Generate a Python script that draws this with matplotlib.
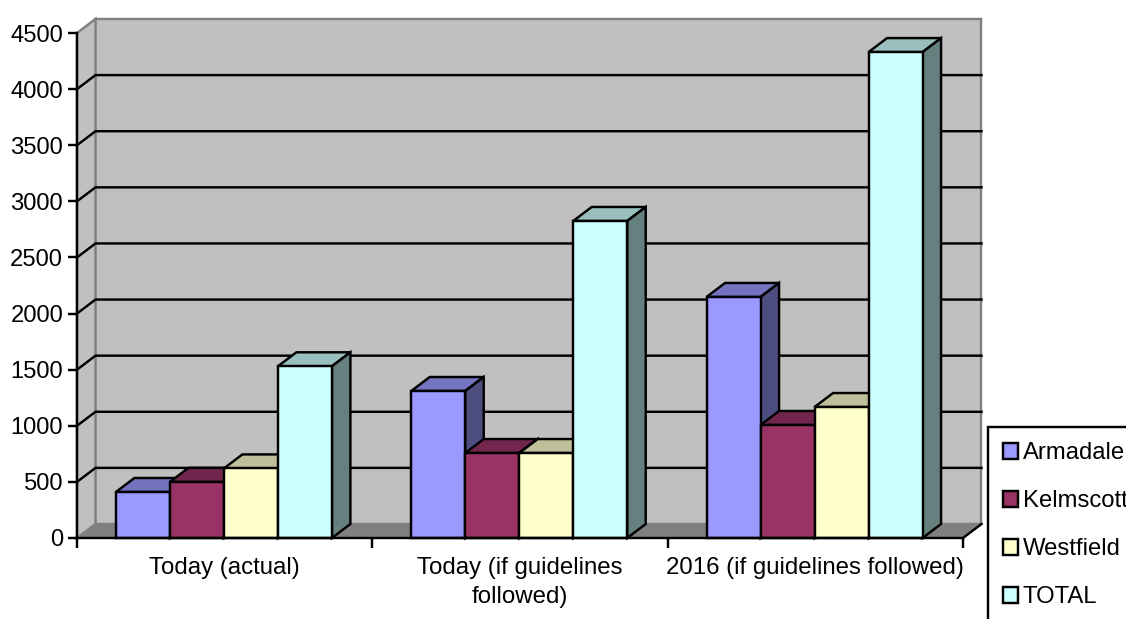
import matplotlib
matplotlib.use("Agg")
import matplotlib.pyplot as plt
from matplotlib.patches import Polygon, Patch

plt.rcParams["font.family"] = ["Liberation Sans", "DejaVu Sans"]

# Data
categories = ["Today (actual)", "Today (if guidelines\nfollowed)", "2016 (if guidelines followed)"]
armadale = [410, 1310, 2148]
kelmscott = [500, 757, 1007]
westfield = [620, 757, 1167]
total = [1530, 2825, 4330]
series_names = ["Armadale", "Kelmscott", "Westfield", "TOTAL"]
series_values = [armadale, kelmscott, westfield, total]
front_colors = ["#9999FF", "#993366", "#FFFFCC", "#CCFFFF"]
top_colors = ["#7373BF", "#73264D", "#BFBF99", "#99BFBF"]
side_colors = ["#4D4D80", "#4D1A33", "#808066", "#668080"]
y_ticks = list(range(0, 4501, 500))

W, H = 1126, 619
X0, X1, Y0, Y1 = 77, 963, 538, 33   # plot front plane, in pixels
LW = 1.75

fig = plt.figure(figsize=(W / 100, H / 100), dpi=100, facecolor="white")
ax = fig.add_axes([X0 / W, 1 - Y0 / H, (X1 - X0) / W, (Y0 - Y1) / H])
ax.set_xlim(0, 3)
ax.set_ylim(0, 4500)
ax.patch.set_visible(False)

# Oblique depth of the pseudo-3D box, in data units
dx = 18.5 / ((X1 - X0) / 3)
dy = 14 / ((Y0 - Y1) / 4500)


def poly(pts, fc, ec="black", lw=LW, z=2, join="miter"):
    ax.add_patch(Polygon(pts, closed=True, facecolor=fc, edgecolor=ec, linewidth=lw,
                         clip_on=False, zorder=z, joinstyle=join))


# Walls and floor
poly([(dx, dy), (3 + dx, dy), (3 + dx, 4500 + dy), (dx, 4500 + dy)], "#C0C0C0", "#808080", z=1)
poly([(0, 0), (dx, dy), (dx, 4500 + dy), (0, 4500)], "#C0C0C0", "#808080", z=1)
poly([(0, 0), (3, 0), (3 + dx, dy), (dx, dy)], "#808080", "#808080", lw=0.7, z=1)
ax.plot([3, 3 + dx], [0, dy], color="black", lw=LW, clip_on=False, zorder=1.5)

# Gridlines along the back and left walls
for v in y_ticks[1:-1]:
    ax.plot([0, dx, 3 + dx], [v, v + dy, v + dy], color="black", lw=LW, clip_on=False,
            zorder=1.5, solid_joinstyle="miter")

# Bars: top, side and front faces drawn left to right
bar_w = 54 / ((X1 - X0) / 3)
margin = 38.9 / ((X1 - X0) / 3)
z = 3
for c in range(len(categories)):
    for s, vals in enumerate(series_values):
        left = c + margin + s * bar_w
        right = left + bar_w
        v = vals[c]
        poly([(left, v), (right, v), (right + dx, v + dy), (left + dx, v + dy)], top_colors[s], z=z)
        poly([(right, 0), (right + dx, dy), (right + dx, v + dy), (right, v)], side_colors[s], z=z)
        poly([(left, 0), (right, 0), (right, v), (left, v)], front_colors[s], z=z)
        z += 1

# Axes
for name in ("top", "right"):
    ax.spines[name].set_visible(False)
for name in ("left", "bottom"):
    ax.spines[name].set_linewidth(LW)
    ax.spines[name].set_zorder(100)
ax.set_yticks(y_ticks)
ax.set_xticks([0, 1, 2, 3])
ax.set_xticklabels([])
ax.set_xticks([0.5, 1.5, 2.5], minor=True)
ax.set_xticklabels(categories, minor=True, fontsize=17.3, linespacing=1.43)
ax.tick_params(axis="x", which="minor", length=0, pad=13.5)
ax.tick_params(axis="x", which="major", length=7.2, width=LW)
ax.tick_params(axis="y", length=6.5, width=LW, labelsize=17.1, pad=3.5)

# Legend runs off the right and bottom of the canvas
handles = [Patch(facecolor=fc, edgecolor="black", linewidth=LW) for fc in front_colors]
legend = fig.legend(handles, series_names, loc="upper left",
                    bbox_to_anchor=(988 / W, 1 - 427 / H), bbox_transform=fig.transFigure,
                    fontsize=17.2, frameon=True, fancybox=False, framealpha=1, edgecolor="black",
                    borderaxespad=0, borderpad=0.64, handlelength=0.62, handleheight=0.62,
                    handletextpad=0.2, labelspacing=1.09)
legend.get_frame().set_linewidth(LW)

fig.savefig("out.png", dpi=100)
